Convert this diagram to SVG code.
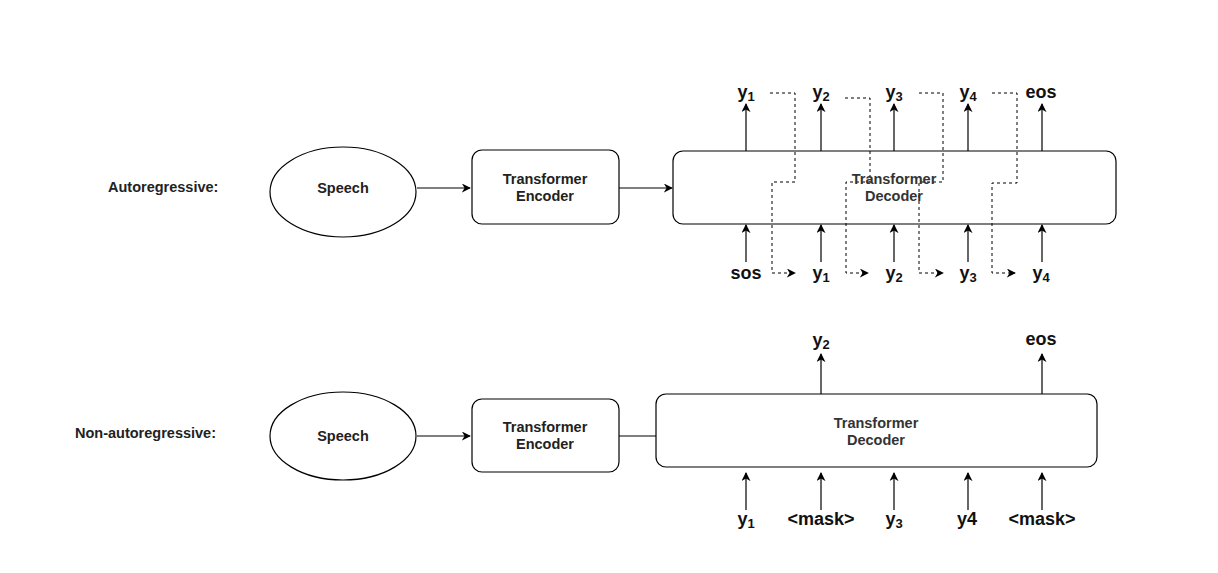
<svg xmlns="http://www.w3.org/2000/svg" width="1218" height="573" viewBox="0 0 1218 573">
<defs>
<marker id="ah" viewBox="0 0 10 10" refX="9" refY="5" markerWidth="9" markerHeight="9" markerUnits="userSpaceOnUse" orient="auto">
<path d="M0,0 L10,5 L0,10 L3,5 Z" fill="#000"/>
</marker>
<style>
.ln{stroke:#000;stroke-width:1.2;fill:none}
.ds{stroke:#000;stroke-width:1;fill:none;stroke-dasharray:3,3}
.box{fill:#fff;stroke:#000;stroke-width:1.2}
.t{font-family:"Liberation Sans",Arial,sans-serif;font-size:14.5px;font-weight:bold;fill:#222;text-anchor:middle}
.td{font-family:"Liberation Sans",Arial,sans-serif;font-size:14.5px;font-weight:bold;fill:#333;text-anchor:middle}
.lb{font-family:"Liberation Sans",Arial,sans-serif;font-size:14.5px;font-weight:bold;fill:#222}
.tok{font-family:"Liberation Sans",Arial,sans-serif;font-size:18px;font-weight:bold;fill:#111;text-anchor:middle}
.sub{font-size:13px}
</style>
</defs>
<rect width="1218" height="573" fill="#fff"/>

<text class="lb" x="108" y="192">Autoregressive:</text>
<text class="lb" x="75" y="438">Non-autoregressive:</text>

<g id="connectors">
<line class="ln" x1="417" y1="188" x2="470" y2="188" marker-end="url(#ah)"/>
<line class="ln" x1="619" y1="188" x2="672" y2="188" marker-end="url(#ah)"/>
<line class="ln" x1="417" y1="436" x2="470" y2="436" marker-end="url(#ah)"/>
<line class="ln" x1="619" y1="436" x2="656" y2="436"/>
<line class="ln" x1="746" y1="151" x2="746" y2="104" marker-end="url(#ah)"/>
<line class="ln" x1="821" y1="151" x2="821" y2="104" marker-end="url(#ah)"/>
<line class="ln" x1="894" y1="151" x2="894" y2="104" marker-end="url(#ah)"/>
<line class="ln" x1="968" y1="151" x2="968" y2="104" marker-end="url(#ah)"/>
<line class="ln" x1="1042" y1="151" x2="1042" y2="104" marker-end="url(#ah)"/>
<line class="ln" x1="746" y1="262" x2="746" y2="225" marker-end="url(#ah)"/>
<line class="ln" x1="821" y1="262" x2="821" y2="225" marker-end="url(#ah)"/>
<line class="ln" x1="894" y1="262" x2="894" y2="225" marker-end="url(#ah)"/>
<line class="ln" x1="968" y1="262" x2="968" y2="225" marker-end="url(#ah)"/>
<line class="ln" x1="1042" y1="262" x2="1042" y2="225" marker-end="url(#ah)"/>
<path class="ds" d="M770,93 H795 V182 H772 V273 H795" marker-end="url(#ah)"/>
<path class="ds" d="M845,98 H870 V182 H846 V273 H868" marker-end="url(#ah)"/>
<path class="ds" d="M919,93 H943 V182 H919 V273 H943" marker-end="url(#ah)"/>
<path class="ds" d="M992,93 H1017 V183 H992 V273 H1015" marker-end="url(#ah)"/>
<line class="ln" x1="821" y1="394" x2="821" y2="354" marker-end="url(#ah)"/>
<line class="ln" x1="1042" y1="394" x2="1042" y2="354" marker-end="url(#ah)"/>
<line class="ln" x1="746" y1="510" x2="746" y2="473" marker-end="url(#ah)"/>
<line class="ln" x1="821" y1="510" x2="821" y2="473" marker-end="url(#ah)"/>
<line class="ln" x1="894" y1="510" x2="894" y2="473" marker-end="url(#ah)"/>
<line class="ln" x1="968" y1="510" x2="968" y2="473" marker-end="url(#ah)"/>
<line class="ln" x1="1042" y1="510" x2="1042" y2="473" marker-end="url(#ah)"/>
</g>

<g id="speech-ar">
<ellipse class="box" cx="343" cy="192" rx="73" ry="45"/>
<text class="t" x="343" y="193">Speech</text>
</g>
<g id="encoder-ar">
<rect class="box" x="472" y="150" width="147" height="74" rx="10"/>
<text class="t" x="545" y="184">Transformer</text>
<text class="t" x="545" y="201">Encoder</text>
</g>
<g id="decoder-ar">
<rect class="box" x="673" y="151" width="443" height="73" rx="10" fill-opacity="0"/>
<text class="td" x="894" y="184">Transformer</text>
<text class="td" x="894" y="201">Decoder</text>
</g>

<g id="speech-nar">
<ellipse class="box" cx="343" cy="436" rx="73" ry="44"/>
<text class="t" x="343" y="441">Speech</text>
</g>
<g id="encoder-nar">
<rect class="box" x="472" y="399" width="147" height="73" rx="10"/>
<text class="t" x="545" y="432">Transformer</text>
<text class="t" x="545" y="449">Encoder</text>
</g>
<g id="decoder-nar">
<rect class="box" x="656" y="394" width="441" height="73" rx="10"/>
<text class="td" x="876" y="428">Transformer</text>
<text class="td" x="876" y="445">Decoder</text>
</g>

<g id="tokens-ar-out">
<text class="tok" x="746" y="98">y<tspan class="sub" dy="3">1</tspan></text>
<text class="tok" x="821" y="98">y<tspan class="sub" dy="3">2</tspan></text>
<text class="tok" x="894" y="98">y<tspan class="sub" dy="3">3</tspan></text>
<text class="tok" x="968" y="98">y<tspan class="sub" dy="3">4</tspan></text>
<text class="tok" x="1041" y="98">eos</text>
</g>
<g id="tokens-ar-in">
<text class="tok" x="746" y="279">sos</text>
<text class="tok" x="821" y="279">y<tspan class="sub" dy="3">1</tspan></text>
<text class="tok" x="894" y="279">y<tspan class="sub" dy="3">2</tspan></text>
<text class="tok" x="968" y="279">y<tspan class="sub" dy="3">3</tspan></text>
<text class="tok" x="1041" y="279">y<tspan class="sub" dy="3">4</tspan></text>
</g>
<g id="tokens-nar-out">
<text class="tok" x="821" y="346">y<tspan class="sub" dy="3">2</tspan></text>
<text class="tok" x="1041" y="345">eos</text>
</g>
<g id="tokens-nar-in">
<text class="tok" x="746" y="525">y<tspan class="sub" dy="3">1</tspan></text>
<text class="tok" x="821" y="525">&lt;mask&gt;</text>
<text class="tok" x="894" y="525">y<tspan class="sub" dy="3">3</tspan></text>
<text class="tok" x="967" y="525">y4</text>
<text class="tok" x="1042" y="525">&lt;mask&gt;</text>
</g>
</svg>
